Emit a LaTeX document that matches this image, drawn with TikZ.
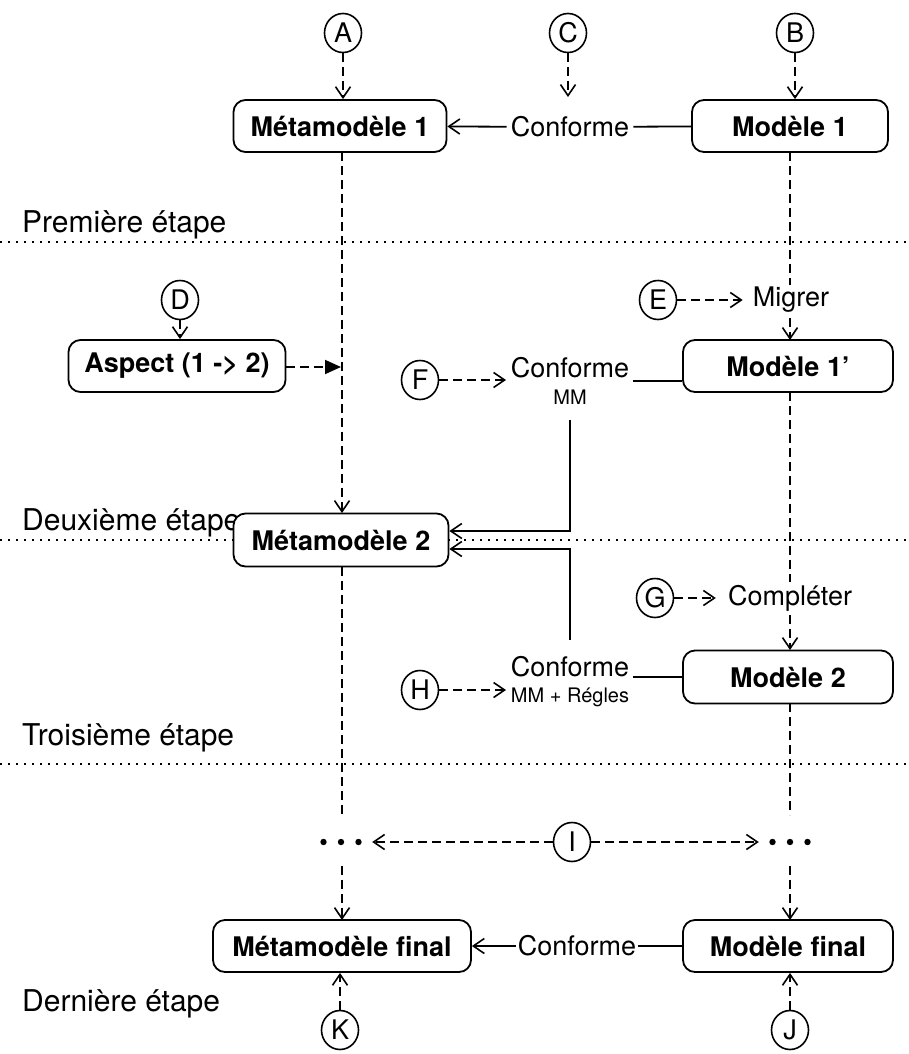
\documentclass[tikz,border=0pt]{standalone}
\usepackage{fontspec}
\setmainfont{TeX Gyre Heros}
\usetikzlibrary{arrows.meta,shapes.geometric}
\begin{document}
\begin{tikzpicture}[x=1pt,y=-1pt,
  every node/.style={font=\fontsize{27}{32}\selectfont},
  lbl/.style={ellipse,draw,line width=1.6pt,inner sep=0pt,minimum width=37pt,minimum height=39pt},
  box/.style={draw,line width=1.8pt,rounded corners=12pt,fill=white,minimum height=52pt,inner sep=0pt,font=\fontsize{27}{32}\selectfont\bfseries},
  txt/.style={inner sep=2pt},
  small/.style={inner sep=1pt,font=\fontsize{20}{24}\selectfont},
  stage/.style={anchor=base west,inner sep=0pt,font=\fontsize{30}{36}\selectfont},
  sep/.style={line width=1.6pt,dash pattern=on 1.6pt off 6.4pt},
  dl/.style={line width=1.7pt,dash pattern=on 9pt off 5pt},
  tipb/.style={-{Straight Barb[length=11pt,width=15pt,line width=1.6pt]}},
  da/.style={dl,tipb},
  sa/.style={line width=1.8pt,tipb},
  sl/.style={line width=1.8pt},
  dots/.style={inner sep=0pt,minimum width=46pt,minimum height=8pt}
]
\useasboundingbox (0,0) rectangle (909,1054);

% separators
\draw[sep] (0,242) -- (909,242);
\draw[sep] (0,540) -- (909,540);
\draw[sep] (0,764) -- (909,764);

% stage labels
\node[stage] (s1) at (22,232) {Première étape};
\node[stage] (s2) at (22,530) {Deuxième étape};
\node[stage] (s3) at (22,745) {Troisième étape};
\node[stage] (s4) at (22,1011) {Dernière étape};

% top row
\node[lbl] (A) at (343,33) {A};
\node[lbl] (C) at (568,33) {C};
\node[lbl] (B) at (795,33) {B};
\node[box,minimum width=213pt] (M1) at (340,126) {Métamodèle 1};
\node[box,minimum width=196pt] (Mo1) at (790,126) {Modèle 1};
\node[txt,inner sep=4pt] (c1) at (570,127) {Conforme};
\coordinate (c1top) at (568,97);

\draw[da] (A) -- (A|-M1.north);
\draw[da] (C) -- (c1top);
\draw[da] (B) -- (B|-Mo1.north);
\draw[sa] (c1) -- (M1);
\draw[sl] (Mo1) -- (c1);

% second stage
\node[lbl] (D) at (180,300) {D};
\node[box,minimum width=217pt] (Asp) at (177,366) {Aspect (1 -> 2)};
\node[lbl] (E) at (658,300) {E};
\node[txt,inner sep=10pt] (mig) at (791,300) {Migrer};
\node[box,minimum width=210pt] (Mo1p) at (788,366) {Modèle 1’};
\node[lbl] (F) at (420,380) {F};
\node[txt] (cf) at (570,368) {Conforme};
\node[small] (cfmm) at (570,397) {MM};

\node[box,minimum width=215pt,minimum height=53pt] (M2) at (341,540) {Métamodèle 2};

\coordinate (asp) at (341,367);
\draw[da] (D) -- (D|-Asp.north);
\draw[dl,-{Triangle[length=16pt,width=14pt]}] (Asp.east|-asp) -- (asp);
\draw[da] (342,152) -- (342,513);
\draw[da] (E) -- (mig.west|-E);
\draw[dl] (790,152) -- (790,285);
\draw[da] (790,318) -- (790,340);
\draw[da] (F) -- (506,380);
\draw[sl] (633,381) -- (Mo1p.west|-0,381);

% arrows to M2
\coordinate (up1) at (570,420);
\coordinate (up2) at (570,640);
\draw[sa] (up1) -- (570,531) -- (M2.east|-0,531);
\draw[sa] (up2) -- (570,549) -- (M2.east|-0,549);

% third stage
\node[lbl] (G) at (655,598) {G};
\node[txt,inner sep=12pt] (comp) at (790,598) {Compléter};
\node[box,minimum width=210pt,minimum height=53pt] (Mo2) at (788,677) {Modèle 2};
\node[lbl] (H) at (420,690) {H};
\node[txt] (ch) at (570,667) {Conforme};
\node[small] (chmm) at (570,697) {MM + Régles};

\draw[da] (G) -- (comp.west|-G);
\draw[dl] (790,392) -- (790,582);
\draw[da] (790,615) -- (790,650);
\draw[da] (H) -- (506,690);
\draw[sl] (633,677) -- (Mo2.west);

% dots
\node[dots] (dl) at (341,842) {};
\node[dots] (dr) at (790,842) {};
\foreach \n in {dl,dr}{
  \fill ([xshift=-17.5pt]\n.center) circle (3.2pt);
  \fill (\n.center) circle (3.2pt);
  \fill ([xshift=17.5pt]\n.center) circle (3.2pt);
}
\node[lbl] (I) at (572,842) {I};
\draw[da] (I) -- ([xshift=8pt]dl.east);
\draw[da] (I) -- ([xshift=-8pt]dr.west);
\draw[dl] (342,567) -- (342,815);
\draw[dl] (790,703) -- (790,815);

% final
\node[box,minimum width=258pt] (Mf) at (342,946) {Métamodèle final};
\node[box,minimum width=210pt] (Mof) at (788,946) {Modèle final};
\node[txt] (cfin) at (577,946) {Conforme};
\node[lbl] (K) at (340,1030) {K};
\node[lbl] (J) at (790,1030) {J};

\draw[da] (342,866) -- (342,920);
\draw[da] (790,866) -- (790,920);
\draw[sa] (cfin) -- (Mf);
\draw[sl] (Mof) -- (cfin);
\draw[da] (K) -- (K|-Mf.south);
\draw[da] (J) -- (J|-Mof.south);
\end{tikzpicture}
\end{document}
